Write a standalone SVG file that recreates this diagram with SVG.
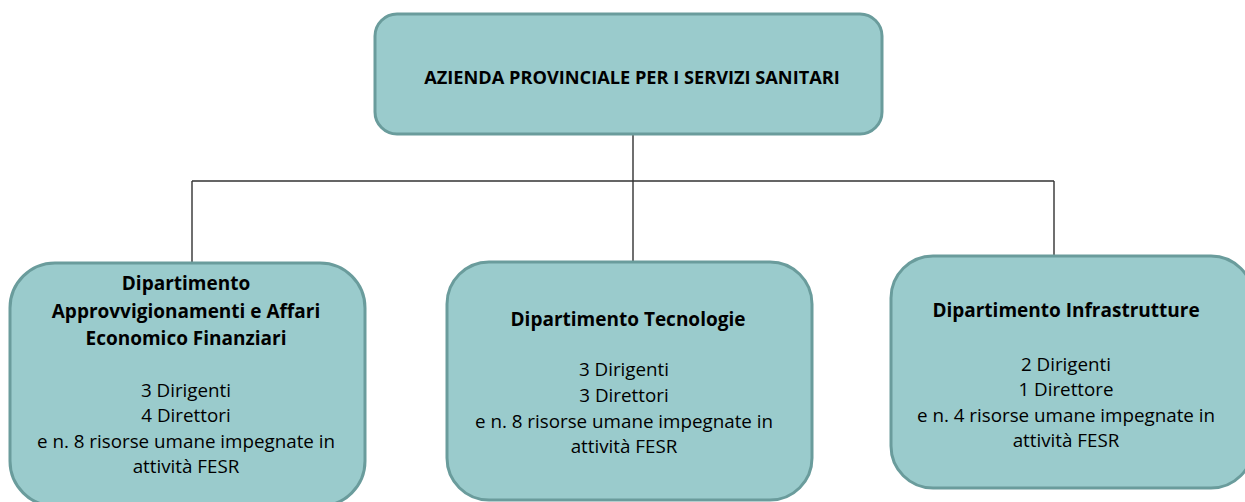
<svg xmlns="http://www.w3.org/2000/svg" width="1245" height="502" viewBox="0 0 1245 502">
<style>
.box{fill:#9acbcc;stroke:#6a9c9c;stroke-width:3}
.conn{fill:none;stroke:#333;stroke-width:1.4}
text{font-family:"Open Sans","Liberation Sans",sans-serif;fill:#000;text-anchor:middle}
.h{font-weight:bold;font-size:19px}
.t{font-weight:bold;font-size:18.2px}
.b{font-size:18.8px}
</style>
<rect width="1245" height="502" fill="#fff"/>
<g id="connectors">
<path class="conn" d="M633 134V181M192 181H1054M192 181V262M633 181V261M1054 181V255"/>
</g>
<g id="azienda">
<rect class="box" x="375" y="14" width="507" height="120" rx="22"/>
<text class="t" x="632" y="84">AZIENDA PROVINCIALE PER I SERVIZI SANITARI</text>
</g>
<g id="dip-approvvigionamenti">
<rect class="box" x="10" y="263" width="355" height="243" rx="45"/>
<text class="h" x="186" y="290">Dipartimento</text>
<text class="h" x="186" y="318">Approvvigionamenti e Affari</text>
<text class="h" x="186" y="345">Economico Finanziari</text>
<text class="b" x="186" y="397">3 Dirigenti</text>
<text class="b" x="186" y="422">4 Direttori</text>
<text class="b" x="186" y="448">e n. 8 risorse umane impegnate in</text>
<text class="b" x="186" y="473">attività FESR</text>
</g>
<g id="dip-tecnologie">
<rect class="box" x="447" y="262" width="365" height="238" rx="42"/>
<text class="h" x="628" y="326">Dipartimento Tecnologie</text>
<text class="b" x="624" y="376">3 Dirigenti</text>
<text class="b" x="624" y="402">3 Direttori</text>
<text class="b" x="624" y="428">e n. 8 risorse umane impegnate in</text>
<text class="b" x="624" y="453">attività FESR</text>
</g>
<g id="dip-infrastrutture">
<rect class="box" x="891" y="256" width="362" height="232" rx="42"/>
<text class="h" x="1066" y="317">Dipartimento Infrastrutture</text>
<text class="b" x="1066" y="371">2 Dirigenti</text>
<text class="b" x="1066" y="396">1 Direttore</text>
<text class="b" x="1066" y="422">e n. 4 risorse umane impegnate in</text>
<text class="b" x="1066" y="447">attività FESR</text>
</g>
</svg>
